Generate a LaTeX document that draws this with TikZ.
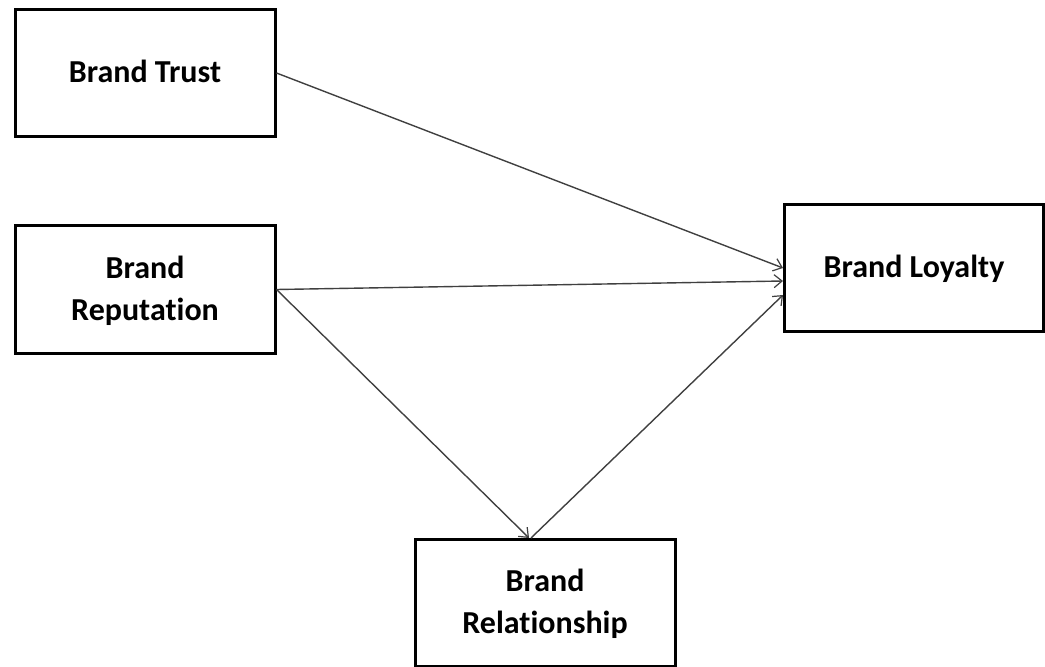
\documentclass[tikz,border=0pt]{standalone}
\usepackage{fontspec}
\setmainfont{Carlito}[Ligatures=NoCommon]
\usetikzlibrary{arrows.meta}
\begin{document}
\begin{tikzpicture}[x=1pt,y=-1pt,
  box/.style={draw=black, line width=3pt, minimum width=#1, inner sep=0pt, align=center,
    font=\fontsize{32}{42}\selectfont\bfseries, text depth=0.25em},
  box/.default=260pt,
  conn/.style={draw=black!75, line width=1.4pt, -{Straight Barb[length=8pt,width=13pt,line width=1.2pt]}}]
\useasboundingbox (0,0) rectangle (1045,667);
\node[box, minimum height=127pt] (trust) at (145,73) {Brand Trust};
\node[box, minimum height=128pt] (rep) at (145,289.5) {Brand\\Reputation};
\node[box=259pt, minimum height=127pt] (loy) at (914,268) {Brand Loyalty};
\node[box, minimum height=127pt] (rel) at (545,603) {Brand\\Relationship};
\draw[conn] (trust.east) -- (loy.west);
\draw[conn] (rep.east) -- ([yshift=-13pt]loy.west);
\draw[conn] (rep.east) -- ([xshift=-16pt]rel.north);
\draw[conn] ([xshift=-14pt]rel.north) -- ([yshift=-27pt]loy.west);
\end{tikzpicture}
\end{document}
